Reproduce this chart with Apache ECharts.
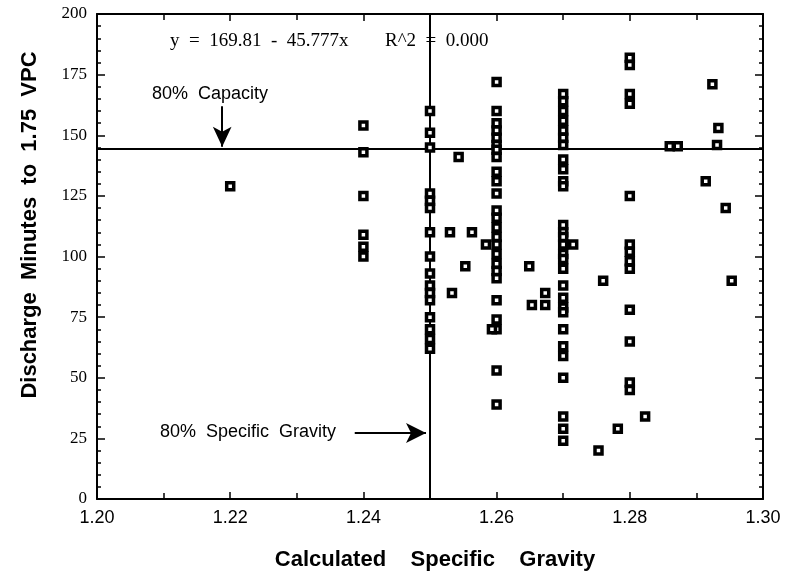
<!DOCTYPE html>
<html><head><meta charset="utf-8">
<script src="https://cdn.jsdelivr.net/npm/echarts@6/dist/echarts.min.js"></script>
<style>html,body{margin:0;padding:0;background:#fff}#c{width:790px;height:573px}</style>
</head><body><div id="c"></div>
<script>
// ---- data ----
const xTicks = [1.20, 1.22, 1.24, 1.26, 1.28, 1.30];
const col122 = [129];
const col124 = [154, 143, 125, 109, 104, 100];
const col125 = [160, 151, 145, 126, 123, 120, 110, 100, 93, 88, 85, 82, 75, 70, 66, 62];
const col126 = [172, 160, 155, 152, 149, 146, 144, 141, 135, 131, 126, 119, 116, 112, 108, 105, 101, 97, 94, 91, 82, 74, 70, 53, 39];
const col127 = [167, 164, 160, 156, 152, 149, 146, 140, 136, 131, 129, 113, 110, 108, 105, 101, 99, 95, 88, 83, 79, 77, 70, 63, 59, 50, 34, 29, 24];
const col128 = [182, 179, 167, 163, 125, 105, 102, 98, 95, 78, 65, 48, 45];
const looseX = [1.2530, 1.2533, 1.2543, 1.2553, 1.2563, 1.2584, 1.2593, 1.2649, 1.2653, 1.2673, 1.2673, 1.2715, 1.2760, 1.2753, 1.2782, 1.2823, 1.2860, 1.2872, 1.2931, 1.2924, 1.2933, 1.2914, 1.2944, 1.2953];
const looseY = [110, 85, 141, 96, 110, 105, 70, 96, 80, 85, 80, 105, 90, 20, 29, 34, 145.5, 145.5, 146, 171, 153, 131, 120, 90];
const capacityLevel = 144.5;
const gravityLevel = 1.25;

// ---- build ----
const pts = [];
[[1.22, col122], [1.24, col124], [1.25, col125], [1.26, col126], [1.27, col127], [1.28, col128]]
  .forEach(([x, ys]) => ys.forEach(y => pts.push([x, y])));
looseX.forEach((x, i) => pts.push([x, looseY[i]]));

const sans = 'Liberation Sans, Arial, sans-serif';
const serif = 'Liberation Serif, Times New Roman, serif';
const axisLine = {onZero: false, lineStyle: {color: '#000', width: 2}};
const tick = {inside: true, length: 7, lineStyle: {color: '#000', width: 1.5}};

const chart = echarts.init(document.getElementById('c'), null, {renderer: 'canvas'});
chart.setOption({
  animation: false,
  grid: {left: 97, right: 27, top: 14, bottom: 74},
  xAxis: [
    {type: 'value', min: 1.2, max: 1.3, interval: 0.02, position: 'bottom',
     axisLine, axisTick: tick, splitLine: {show: false},
     minorTick: {show: true, splitNumber: 2, length: 6, lineStyle: {color: '#000', width: 1.5}},
     axisLabel: {formatter: v => v.toFixed(2), fontFamily: sans, fontSize: 18, color: '#000', margin: 10}},
    {type: 'value', min: 1.2, max: 1.3, interval: 0.02, position: 'top',
     axisLine, axisTick: tick, splitLine: {show: false}, axisLabel: {show: false},
     minorTick: {show: true, splitNumber: 2, length: 6, lineStyle: {color: '#000', width: 1.5}}}
  ],
  yAxis: [
    {type: 'value', min: 0, max: 200, interval: 25, position: 'left',
     axisLine, axisTick: {inside: true, length: 8, lineStyle: {color: '#000', width: 1.5}}, splitLine: {show: false},
     minorTick: {show: true, splitNumber: 5, length: 4, lineStyle: {color: '#000', width: 1.5}},
     axisLabel: {fontFamily: serif, fontSize: 17, color: '#000', margin: 10}},
    {type: 'value', min: 0, max: 200, interval: 25, position: 'right',
     axisLine, axisTick: {inside: true, length: 8, lineStyle: {color: '#000', width: 1.5}}, splitLine: {show: false},
     minorTick: {show: true, splitNumber: 5, length: 4, lineStyle: {color: '#000', width: 1.5}},
     axisLabel: {show: false}}
  ],
  series: [{
    type: 'scatter', xAxisIndex: 0, yAxisIndex: 0, data: pts,
    symbol: 'rect', symbolSize: 7,
    itemStyle: {color: '#fff', borderColor: '#000', borderWidth: 3.5, opacity: 1},
    z: 5,
    markLine: {
      silent: true, animation: false, label: {show: false},
      lineStyle: {color: '#000', width: 2, type: 'solid'},
      symbol: ['none', 'none'],
      data: [
        {xAxis: gravityLevel},
        {yAxis: capacityLevel},
        [{coord: [1.2188, 162], symbol: 'none'}, {coord: [1.2188, capacityLevel + 0.8], symbol: 'arrow', symbolSize: [14, 20]}],
        [{coord: [1.2387, 27.2], symbol: 'none'}, {coord: [1.2494, 27.2], symbol: 'arrow', symbolSize: [15, 20]}]
      ]
    }
  }],
  graphic: [
    {type: 'text', left: 170, top: 32, style: {text: 'y  =  169.81  -  45.777x', font: '19px ' + serif, fill: '#000'}},
    {type: 'text', left: 385, top: 32, style: {text: 'R^2  =  0.000', font: '19px ' + serif, fill: '#000'}},
    {type: 'text', left: 152, top: 85, style: {text: '80%  Capacity', font: '18px ' + sans, fill: '#000'}},
    {type: 'text', left: 160, top: 423, style: {text: '80%  Specific  Gravity', font: '18px ' + sans, fill: '#000'}},
    {type: 'text', x: 30, y: 225, rotation: Math.PI / 2,
     style: {text: 'Discharge  Minutes  to  1.75  VPC', font: 'bold 22px ' + sans, fill: '#000', align: 'center', verticalAlign: 'middle'}},
    {type: 'text', x: 435, y: 560,
     style: {text: 'Calculated    Specific    Gravity', font: 'bold 22px ' + sans, fill: '#000', align: 'center', verticalAlign: 'middle'}}
  ]
});
</script></body></html>
